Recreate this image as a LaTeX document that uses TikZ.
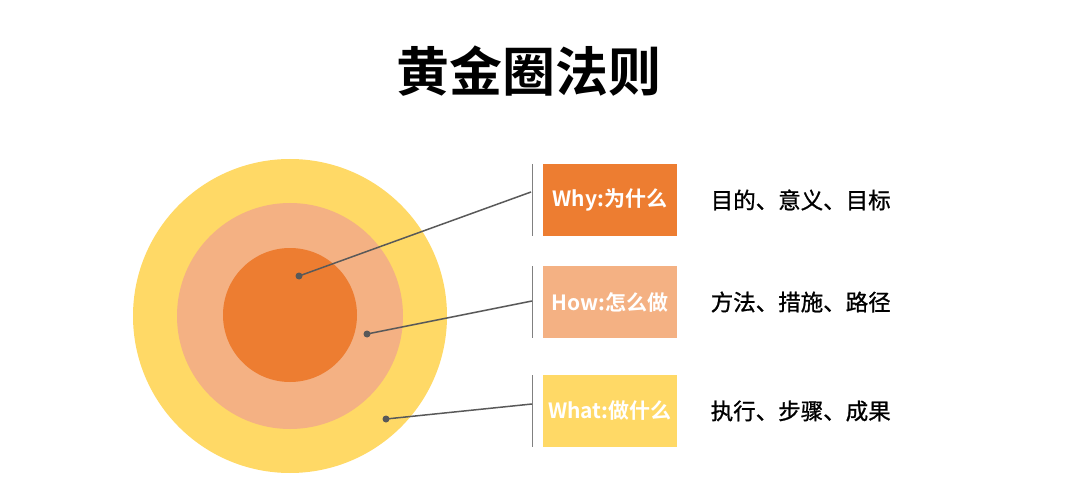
\documentclass[tikz,border=0pt]{standalone}
\usepackage{fontspec}
\newfontfamily\cjk{Noto Sans CJK SC}[BoldFont={* Bold}]
\newfontfamily\cjknote{Noto Sans CJK SC}[FakeBold=1]
\usetikzlibrary{positioning}
\definecolor{whyorange}{HTML}{ED7D31}
\definecolor{howorange}{HTML}{F4B183}
\definecolor{whatyellow}{HTML}{FFD966}
\definecolor{linegray}{HTML}{595959}
\definecolor{bargray}{HTML}{808080}
\tikzset{
  ring/.style={circle,inner sep=0pt,draw=none},
  dot/.style={circle,fill=linegray,inner sep=0pt,minimum size=7pt},
  tag/.style={minimum width=134pt,minimum height=72pt,inner sep=0pt,
    text=white,font=\cjk\bfseries\fontsize{21}{24}\selectfont},
  note/.style={anchor=west,font=\cjknote\fontsize{22.5}{26}\selectfont},
  pointer/.style={draw=linegray,line width=1.5pt},
  bar/.style={draw=bargray,line width=1pt}
}
\begin{document}
\begin{tikzpicture}[x=1pt,y=1pt]
\useasboundingbox (0,0) rectangle (1080,491);

% Title
\node[font=\cjk\bfseries\fontsize{53}{58}\selectfont] (title) at (529,420) {黄金圈法则};

% Circles
\node[ring,fill=whatyellow,minimum size=314pt] (outer) at (290,175) {};
\node[ring,fill=howorange,minimum size=226pt] (middle) at (290,175) {};
\node[ring,fill=whyorange,minimum size=134pt] (inner) at (290,176) {};

% Dots
\node[dot] (whydot) at (299,215) {};
\node[dot] (howdot) at (367,157) {};
\node[dot] (whatdot) at (386,72) {};

% Boxes
\node[tag,fill=whyorange] (why) at (610,291) {Why:为什么};
\node[tag,fill=howorange] (how) at (610,189) {How:怎么做};
\node[tag,fill=whatyellow] (what) at (610,80) {What:做什么};

% Notes
\node[note,right=30pt of why] (whynote) {目的、意义、目标};
\node[note,right=30pt of how] (hownote) {方法、措施、路径};
\node[note,right=30pt of what] (whatnote) {执行、步骤、成果};

% Bars
\draw[bar] (532,327) coordinate (whytop) -- (532,255) coordinate (whybot);
\draw[bar] (532,225) coordinate (howtop) -- (532,153) coordinate (howbot);
\draw[bar] (532,116) coordinate (whattop) -- (532,44) coordinate (whatbot);

% Pointers
\coordinate (whyend) at (531,299);
\coordinate (howend) at (532,190);
\coordinate (whatend) at (532,87);
\draw[pointer] (whydot.center) -- (whyend);
\draw[pointer] (howdot.center) -- (howend);
\draw[pointer] (whatdot.center) -- (whatend);

\end{tikzpicture}
\end{document}
